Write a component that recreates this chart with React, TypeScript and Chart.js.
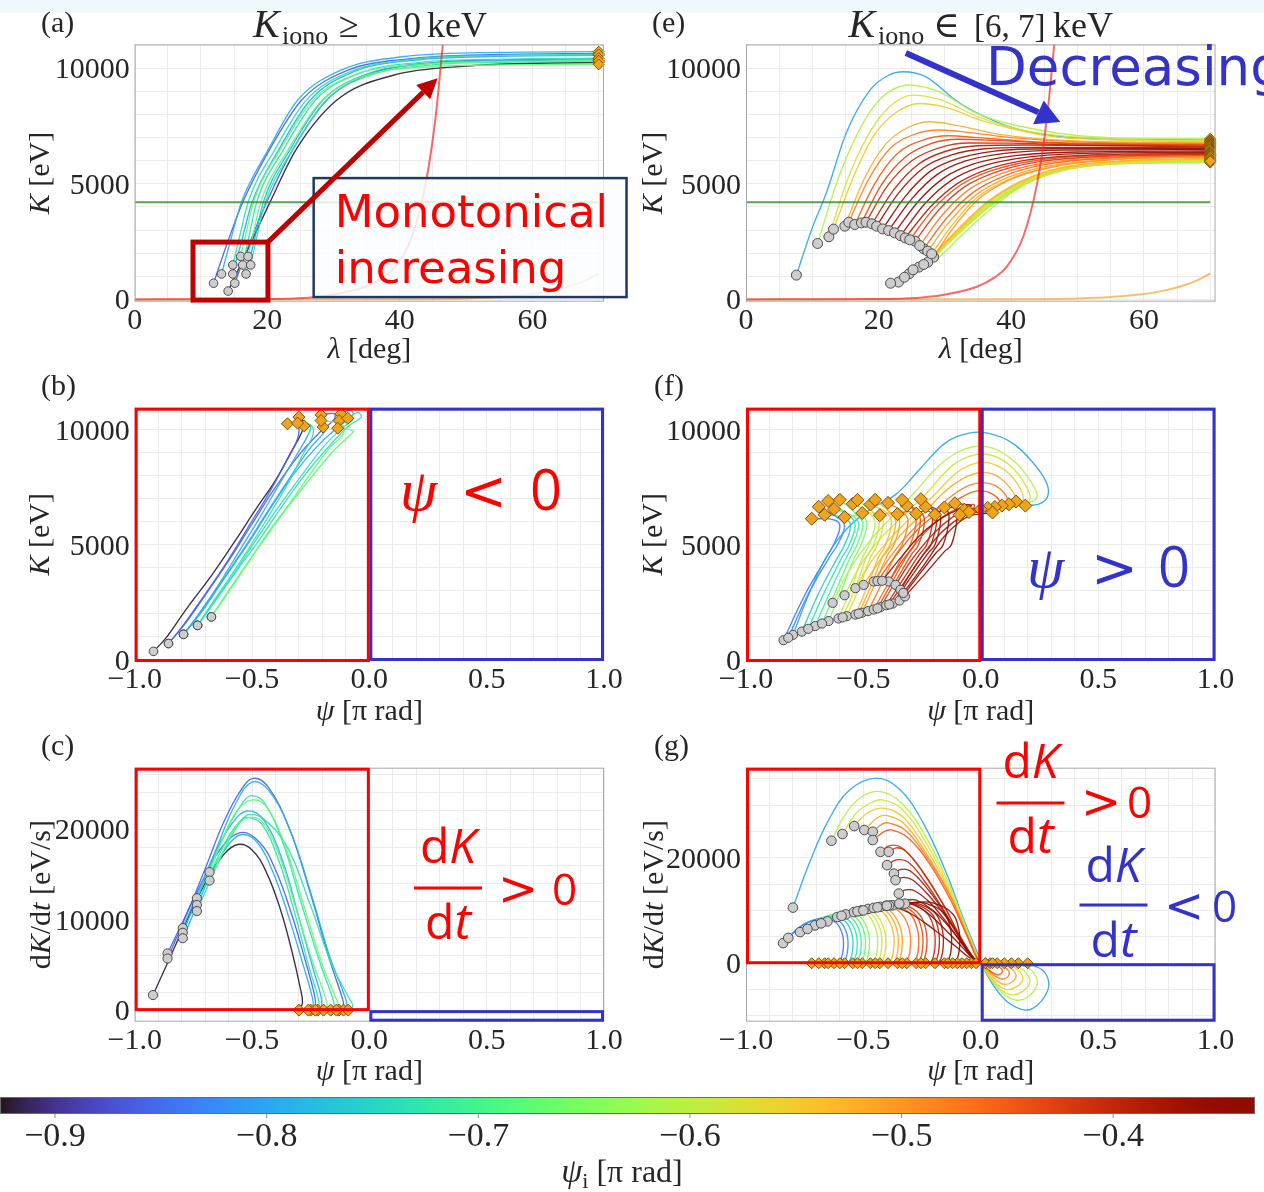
import React, { useEffect, useRef } from "react";
import { Chart, registerables } from "chart.js";

Chart.register(...registerables);

// ---------------- colour scale (psi_i) ----------------
const PSI_MIN = -0.926;
const PSI_MAX = -0.333;

// ---------------- tick labels ----------------
const LAM_MAJOR = [0, 20, 40, 60];
const K_MAJOR = [0, 5000, 10000];
const PSI_MAJOR = [-1, -0.5, 0, 0.5, 1];
const C_MAJOR = [0, 10000, 20000];
const G_MAJOR = [0, 20000];
const CB_MAJOR = [-0.9, -0.8, -0.7, -0.6, -0.5, -0.4];

// ---------------- reference lines in (a),(e): lambda, K ----------------
const redLine = [[0, 0], [10, 3], [20, 15], [24.7, 45], [29.7, 190], [34.8, 545], [37.5, 950], [39.3, 1410], [41.8, 2710], [43.9, 5020], [45.4, 7900], [46.4, 10790], [47, 12600]];
const greenLine = [[0, 4200], [70, 4200]];
const orangeLine = [[0, 0], [40, 8], [50, 40], [55, 100], [60, 230], [63, 380], [66, 600], [68, 820], [70, 1120]];

// ---------------- (a) lambda [deg], K [eV] ----------------
const aPsi = [-0.92, -0.856, -0.856, -0.792, -0.792, -0.792, -0.732, -0.732, -0.732, -0.673, -0.673];
const aTracks = [
  [[14.1, 360], [16.8, 2000], [20.4, 4200], [24.3, 6460], [30.5, 8630], [39, 9700], [50, 10100], [60, 10220], [70, 10250]],
  [[11.9, 700], [13.8, 2300], [16.3, 4200], [20.3, 6460], [25.2, 8630], [32, 9900], [41, 10400], [55, 10600], [70, 10650]],
  [[15.1, 700], [17.3, 2400], [19.9, 4200], [23.8, 6460], [29, 8630], [36, 9800], [45, 10250], [57, 10380], [70, 10420]],
  [[13.1, 1100], [14.5, 2600], [16.1, 4200], [20.1, 6460], [24.6, 8630], [31.2, 9930], [40.3, 10500], [52, 10680], [70, 10720]],
  [[14.8, 1100], [16.2, 2600], [17.7, 4200], [21.7, 6460], [26.5, 8630], [33, 9850], [42, 10350], [55, 10520], [70, 10560]],
  [[16.8, 1100], [18, 2500], [19.4, 4200], [23.4, 6460], [28.4, 8630], [35, 9750], [44, 10200], [56, 10330], [70, 10360]],
  [[14.8, 1490], [15.9, 2800], [17.1, 4200], [21.1, 6460], [25.9, 8630], [32.5, 9850], [41.5, 10380], [55, 10560], [70, 10600]],
  [[16.3, 1490], [17.3, 2800], [18.4, 4200], [22.4, 6460], [27.3, 8630], [34, 9800], [43, 10260], [56, 10400], [70, 10440]],
  [[17.5, 1490], [18.5, 2800], [19.7, 4200], [23.8, 6460], [28.9, 8630], [35.5, 9700], [45, 10150], [57, 10270], [70, 10300]],
  [[16.0, 1860], [16.9, 3000], [17.9, 4200], [21.9, 6460], [26.9, 8630], [33.5, 9750], [43, 10170], [56, 10300], [70, 10330]],
  [[17.1, 1860], [18, 3000], [19.0, 4200], [23.1, 6460], [28.3, 8630], [35, 9700], [45, 10070], [57, 10150], [70, 10170]],
];

// ---------------- (b) psi [pi rad], K [eV] ----------------
const bPsi = [-0.92, -0.856, -0.856, -0.792, -0.792, -0.792, -0.732, -0.732, -0.732, -0.673, -0.673];
const bTracks = [
  [[-0.92, 360], [-0.87, 900], [-0.78, 2200], [-0.67, 3700], [-0.57, 5200], [-0.48, 6600], [-0.40, 7800], [-0.33, 9100], [-0.29, 9850], [-0.28, 10300], [-0.30, 10550]],
  [[-0.856, 700], [-0.80, 1400], [-0.71, 2700], [-0.61, 4200], [-0.52, 5700], [-0.43, 7200], [-0.36, 8500], [-0.31, 9500], [-0.30, 10050], [-0.32, 10300], [-0.349, 10260]],
  [[-0.856, 700], [-0.79, 1500], [-0.70, 2800], [-0.60, 4300], [-0.50, 5900], [-0.40, 7500], [-0.30, 8900], [-0.21, 9900], [-0.15, 10450], [-0.15, 10700], [-0.206, 10650]],
  [[-0.792, 1100], [-0.73, 1900], [-0.64, 3300], [-0.55, 4800], [-0.46, 6300], [-0.38, 7700], [-0.31, 8900], [-0.26, 9800], [-0.25, 10150], [-0.278, 10170]],
  [[-0.792, 1100], [-0.72, 2000], [-0.62, 3500], [-0.52, 5000], [-0.42, 6600], [-0.32, 8100], [-0.22, 9300], [-0.13, 10150], [-0.07, 10650], [-0.08, 10850], [-0.121, 10690]],
  [[-0.792, 1100], [-0.73, 1950], [-0.63, 3400], [-0.53, 4900], [-0.43, 6500], [-0.34, 7900], [-0.26, 9100], [-0.2, 9800], [-0.18, 10100], [-0.197, 10120]],
  [[-0.732, 1490], [-0.67, 2400], [-0.58, 3700], [-0.49, 5100], [-0.39, 6600], [-0.29, 8000], [-0.2, 9200], [-0.12, 10050], [-0.07, 10450], [-0.09, 10550], [-0.129, 10400]],
  [[-0.732, 1490], [-0.68, 2300], [-0.6, 3500], [-0.51, 4900], [-0.42, 6400], [-0.34, 7800], [-0.28, 9000], [-0.24, 9800], [-0.25, 10200], [-0.306, 10290]],
  [[-0.732, 1490], [-0.66, 2500], [-0.57, 3800], [-0.47, 5200], [-0.37, 6700], [-0.27, 8100], [-0.17, 9300], [-0.09, 10150], [-0.035, 10550], [-0.05, 10750], [-0.092, 10500]],
  [[-0.673, 1860], [-0.62, 2700], [-0.54, 3900], [-0.45, 5200], [-0.35, 6600], [-0.25, 7900], [-0.16, 9000], [-0.09, 9700], [-0.07, 9950], [-0.135, 10070]],
  [[-0.673, 1860], [-0.61, 2800], [-0.53, 4000], [-0.44, 5400], [-0.34, 6800], [-0.25, 8100], [-0.17, 9200], [-0.11, 9850], [-0.12, 10250], [-0.206, 10400]],
];

// ---------------- (c) psi [pi rad], dK/dt [eV/s] ----------------
const cPsi = [-0.92, -0.856, -0.856, -0.792, -0.792, -0.792, -0.732, -0.732, -0.732, -0.673, -0.673];
const cTracks = [
  [[-0.922, 1660], [-0.86, 5200], [-0.78, 9800], [-0.70, 14000], [-0.62, 17200], [-0.56, 18300], [-0.50, 17700], [-0.44, 15300], [-0.38, 11200], [-0.33, 6500], [-0.295, 2500], [-0.285, 800], [-0.30, 0]],
  [[-0.86, 6260], [-0.80, 9500], [-0.72, 13800], [-0.64, 17600], [-0.55, 19600], [-0.47, 18600], [-0.40, 15500], [-0.33, 10500], [-0.27, 5200], [-0.235, 1800], [-0.23, 500], [-0.25, 0]],
  [[-0.86, 5700], [-0.78, 10500], [-0.70, 15600], [-0.62, 20800], [-0.55, 24200], [-0.495, 25600], [-0.43, 24600], [-0.34, 20000], [-0.25, 12800], [-0.17, 5600], [-0.12, 1700], [-0.11, 450], [-0.13, 0]],
  [[-0.795, 9060], [-0.73, 13000], [-0.65, 17800], [-0.58, 20800], [-0.52, 22000], [-0.45, 21000], [-0.37, 16500], [-0.30, 10200], [-0.24, 4600], [-0.205, 1400], [-0.205, 400], [-0.22, 0]],
  [[-0.795, 8540], [-0.72, 13200], [-0.64, 18600], [-0.57, 22800], [-0.50, 25200], [-0.43, 24300], [-0.34, 20000], [-0.25, 13000], [-0.17, 6000], [-0.11, 1900], [-0.095, 500], [-0.11, 0]],
  [[-0.795, 7940], [-0.73, 11800], [-0.66, 15800], [-0.59, 18600], [-0.54, 19400], [-0.48, 18600], [-0.41, 15200], [-0.34, 10000], [-0.28, 4800], [-0.245, 1600], [-0.24, 400], [-0.26, 0]],
  [[-0.735, 12360], [-0.67, 16300], [-0.60, 20300], [-0.54, 22900], [-0.505, 23700], [-0.45, 23000], [-0.37, 18600], [-0.29, 11800], [-0.21, 5200], [-0.16, 1600], [-0.15, 400], [-0.165, 0]],
  [[-0.735, 11610], [-0.67, 15500], [-0.60, 19200], [-0.55, 20900], [-0.52, 21300], [-0.46, 20600], [-0.39, 16800], [-0.32, 10900], [-0.26, 5000], [-0.22, 1500], [-0.215, 400], [-0.23, 0]],
  [[-0.735, 10940], [-0.67, 14800], [-0.60, 18700], [-0.55, 20800], [-0.515, 21600], [-0.45, 21100], [-0.35, 18000], [-0.25, 11500], [-0.16, 5000], [-0.09, 1500], [-0.07, 400], [-0.09, 0]],
  [[-0.681, 15240], [-0.63, 18600], [-0.57, 21800], [-0.505, 23200], [-0.44, 22500], [-0.36, 18200], [-0.28, 11600], [-0.20, 5000], [-0.145, 1500], [-0.13, 400], [-0.14, 0]],
  [[-0.681, 14310], [-0.63, 17200], [-0.57, 20200], [-0.51, 21300], [-0.45, 20600], [-0.38, 16800], [-0.31, 11000], [-0.24, 5200], [-0.19, 1600], [-0.18, 400], [-0.195, 0]],
];

// ---------------- (e) lambda [deg], K [eV] ----------------
const ePsi = [-0.80, -0.61, -0.585, -0.55, -0.52, -0.48, -0.45, -0.43, -0.41, -0.39, -0.37, -0.355, -0.34, -0.34, -0.36, -0.39, -0.42, -0.46, -0.50, -0.52, -0.55, -0.58, -0.60, -0.62, -0.44, -0.48, -0.51, -0.53, -0.57, -0.61, -0.64];
const eTracks = [
  [[7.6, 1050], [10, 3100], [12.1, 4590], [15.1, 7190], [18.7, 9060], [21.5, 9700], [23.7, 9850], [27, 9650], [32.3, 8480], [39.8, 7470], [47.4, 7040], [55, 6950], [70, 6900]],
  [[10.8, 2420], [13.5, 4900], [16.5, 7000], [20, 8600], [24.7, 9280], [29, 9000], [34.8, 8050], [44.8, 7300], [55, 7000], [70, 6950]],
  [[12.5, 2710], [15.2, 5100], [18.2, 7000], [21.5, 8300], [25.2, 8840], [29.5, 8620], [35, 7900], [43, 7250], [55, 6950], [70, 6880]],
  [[13.2, 3040], [16.2, 5300], [19.3, 7100], [22.7, 8100], [26.2, 8480], [30, 8320], [36, 7700], [45, 7100], [57, 6880], [70, 6830]],
  [[14.9, 3170], [17.8, 5200], [21, 6700], [24.5, 7450], [27.7, 7690], [32, 7520], [38, 7150], [48, 6880], [70, 6780]],
  [[15.5, 3340], [18.5, 5200], [21.8, 6550], [25.5, 7150], [29.2, 7330], [33.5, 7230], [40, 7000], [50, 6820], [70, 6750]],
  [[16.4, 3240], [19.4, 5000], [22.8, 6300], [26.8, 6900], [30.5, 7080], [35, 7000], [43, 6830], [70, 6700]],
  [[17.4, 3310], [20.4, 4950], [24, 6150], [28, 6750], [32, 6930], [37.5, 6880], [46, 6760], [70, 6680]],
  [[18.1, 3340], [21.3, 4900], [25, 6000], [29, 6550], [33.5, 6770], [40, 6760], [50, 6680], [70, 6640]],
  [[19.0, 3270], [22.3, 4750], [26, 5850], [30, 6400], [35, 6650], [42, 6680], [70, 6600]],
  [[19.7, 3170], [23, 4600], [26.8, 5700], [31, 6250], [36, 6520], [44, 6580], [70, 6560]],
  [[20.6, 3050], [24, 4450], [27.8, 5550], [32, 6100], [37.5, 6420], [46, 6520], [70, 6520]],
  [[21.5, 2980], [25, 4350], [28.8, 5400], [33, 5980], [39, 6320], [48, 6460], [70, 6480]],
  [[22.4, 2880], [26, 4250], [29.8, 5250], [34.2, 5850], [40, 6200], [50, 6380], [70, 6420]],
  [[23.3, 2760], [27, 4150], [30.8, 5120], [35.2, 5720], [41, 6100], [51, 6320], [70, 6370]],
  [[24.0, 2660], [27.8, 4000], [31.8, 5000], [36.3, 5620], [42, 6020], [52, 6250], [70, 6320]],
  [[25.5, 2520], [29, 3850], [33, 4880], [37.6, 5500], [44, 5950], [55, 6200], [70, 6270]],
  [[26.8, 2190], [30.2, 3500], [34.2, 4620], [39, 5350], [45, 5830], [55, 6120], [70, 6220]],
  [[28.3, 1830], [31, 3000], [35, 4320], [40, 5200], [46, 5720], [56, 6060], [70, 6170]],
  [[27.4, 1610], [29.5, 2300], [32.5, 3200], [36.5, 4250], [41.5, 5120], [47.5, 5700], [57, 6000], [70, 6110]],
  [[26.1, 1400], [28.5, 2000], [31.8, 2900], [36.2, 4100], [41.5, 5050], [47.5, 5640], [57, 5960], [70, 6060]],
  [[24.6, 1110], [27.5, 1700], [31.6, 2780], [36.6, 4050], [42, 5030], [48, 5620], [58, 5930], [70, 6010]],
  [[23.0, 750], [26.5, 1300], [31, 2560], [36.6, 3980], [42.2, 5000], [48, 5590], [58, 5900], [70, 5960]],
  [[21.8, 700], [25, 1100], [29, 1800], [32.3, 2710], [37.3, 4010], [42.3, 5020], [47.4, 5600], [58, 5880], [70, 5920]],
  [[24.7, 2580], [28.3, 3930], [32.3, 4940], [36.9, 5560], [43, 5980], [53, 6220], [70, 6290]],
  [[26.2, 2330], [29.6, 3650], [33.6, 4750], [38.3, 5420], [44.5, 5880], [55, 6150], [70, 6240]],
  [[27.4, 2090], [30.5, 3300], [34.5, 4480], [39.5, 5280], [45.5, 5770], [56, 6080], [70, 6190]],
  [[28.0, 1970], [30.9, 3150], [34.8, 4400], [39.8, 5220], [46, 5730], [56, 6070], [70, 6160]],
  [[26.8, 1510], [29, 2150], [32.2, 3050], [36.4, 4180], [41.5, 5080], [47.5, 5670], [57, 5980], [70, 6080]],
  [[25.2, 1280], [28, 1850], [31.7, 2840], [36.4, 4070], [41.8, 5040], [47.7, 5630], [57.5, 5950], [70, 6030]],
  [[23.9, 960], [27, 1500], [31.3, 2650], [36.6, 4010], [42.1, 5010], [48, 5600], [58, 5910], [70, 5980]],
];

// ---------------- (f) psi [pi rad], K [eV] ----------------
const fLoopPsi = [-0.80, -0.61, -0.585, -0.55, -0.52, -0.48, -0.45];
const fLoopTracks = [
  [[-0.80, 1075], [-0.73, 2900], [-0.65, 4600], [-0.56, 5800], [-0.46, 6600], [-0.36, 7200], [-0.26, 8280], [-0.15, 9430], [-0.05, 9850], [0.03, 9850], [0.13, 9450], [0.22, 8600], [0.28, 7700], [0.285, 7100], [0.25, 6780], [0.19, 6700]],
  [[-0.631, 2470], [-0.56, 3900], [-0.47, 5200], [-0.38, 6200], [-0.28, 7300], [-0.16, 8600], [-0.04, 9250], [0.05, 9200], [0.14, 8650], [0.21, 7800], [0.24, 7100], [0.2, 6820], [0.15, 6880]],
  [[-0.58, 2800], [-0.51, 4150], [-0.42, 5350], [-0.33, 6250], [-0.23, 7250], [-0.12, 8450], [-0.03, 8900], [0.05, 8880], [0.13, 8400], [0.19, 7600], [0.21, 7000], [0.17, 6700], [0.12, 6760]],
  [[-0.534, 3110], [-0.46, 4350], [-0.37, 5450], [-0.28, 6350], [-0.19, 7250], [-0.1, 8150], [-0.02, 8550], [0.05, 8520], [0.12, 8100], [0.17, 7400], [0.18, 6900], [0.14, 6640], [0.09, 6700]],
  [[-0.499, 3250], [-0.42, 4450], [-0.33, 5550], [-0.24, 6400], [-0.16, 7250], [-0.08, 7850], [-0.01, 8130], [0.05, 8080], [0.1, 7750], [0.14, 7250], [0.15, 6800], [0.11, 6580], [0.06, 6640]],
  [[-0.456, 3400], [-0.38, 4550], [-0.29, 5650], [-0.2, 6450], [-0.12, 7150], [-0.05, 7580], [0.01, 7700], [0.06, 7580], [0.1, 7250], [0.115, 6850], [0.08, 6560], [0.03, 6600]],
  [[-0.44, 3420], [-0.36, 4550], [-0.27, 5650], [-0.18, 6400], [-0.1, 6950], [-0.04, 7280], [0.01, 7340], [0.05, 7200], [0.08, 6900], [0.075, 6600], [0.04, 6480], [0.0, 6540]],
];
const fHookPsi = [-0.84, -0.762, -0.705, -0.648, -0.606, -0.57, -0.534, -0.506, -0.48, -0.456, -0.427, -0.403, -0.375, -0.346, -0.333, -0.82, -0.73, -0.675, -0.59, -0.52, -0.44, -0.39];
const fHookTracks = [
  [[-0.84, 845], [-0.75, 2800], [-0.66, 4400], [-0.627, 5000], [-0.60, 5800], [-0.625, 6080], [-0.72, 6130]],
  [[-0.762, 1220], [-0.69, 2900], [-0.615, 4350], [-0.58, 5000], [-0.555, 5850], [-0.585, 6180], [-0.665, 6300]],
  [[-0.705, 1460], [-0.64, 3000], [-0.575, 4400], [-0.545, 5000], [-0.52, 5900], [-0.55, 6280], [-0.625, 6550]],
  [[-0.648, 1680], [-0.59, 3100], [-0.54, 4400], [-0.51, 5000], [-0.485, 5900], [-0.51, 6250], [-0.58, 6200]],
  [[-0.606, 1790], [-0.55, 3150], [-0.505, 4420], [-0.475, 5000], [-0.45, 5950], [-0.475, 6380], [-0.545, 6780]],
  [[-0.57, 1890], [-0.515, 3200], [-0.47, 4450], [-0.44, 5000], [-0.415, 5950], [-0.44, 6330], [-0.505, 6380]],
  [[-0.534, 1960], [-0.48, 3250], [-0.435, 4470], [-0.405, 5000], [-0.38, 6000], [-0.405, 6420], [-0.47, 6750]],
  [[-0.506, 2040], [-0.45, 3300], [-0.40, 4500], [-0.37, 5000], [-0.345, 6000], [-0.37, 6380], [-0.43, 6280]],
  [[-0.48, 2110], [-0.42, 3350], [-0.365, 4520], [-0.335, 5000], [-0.31, 6050], [-0.335, 6450], [-0.395, 6820]],
  [[-0.456, 2180], [-0.39, 3400], [-0.33, 4550], [-0.30, 5000], [-0.275, 6050], [-0.30, 6430], [-0.355, 6330]],
  [[-0.427, 2280], [-0.36, 3450], [-0.295, 4580], [-0.265, 5000], [-0.24, 6100], [-0.265, 6500], [-0.315, 6700]],
  [[-0.403, 2370], [-0.33, 3500], [-0.26, 4600], [-0.23, 5000], [-0.205, 6100], [-0.225, 6480], [-0.275, 6350]],
  [[-0.375, 2440], [-0.30, 3550], [-0.225, 4620], [-0.195, 5000], [-0.17, 6150], [-0.19, 6550], [-0.235, 6650]],
  [[-0.346, 2570], [-0.27, 3600], [-0.19, 4650], [-0.16, 5000], [-0.135, 6150], [-0.15, 6550], [-0.195, 6300]],
  [[-0.323, 2750], [-0.24, 3700], [-0.155, 4700], [-0.125, 5000], [-0.10, 6200], [-0.11, 6580], [-0.155, 6620]],
  [[-0.82, 950], [-0.735, 2850], [-0.645, 4450], [-0.61, 5000], [-0.58, 5820], [-0.605, 6150], [-0.69, 6650]],
  [[-0.735, 1340], [-0.665, 2950], [-0.595, 4380], [-0.56, 5000], [-0.535, 5880], [-0.565, 6300], [-0.65, 6900]],
  [[-0.676, 1570], [-0.615, 3050], [-0.558, 4400], [-0.527, 5000], [-0.502, 5900], [-0.53, 6330], [-0.60, 6950]],
  [[-0.588, 1840], [-0.532, 3170], [-0.488, 4430], [-0.457, 5000], [-0.432, 5950], [-0.458, 6400], [-0.525, 6950]],
  [[-0.52, 2000], [-0.465, 3270], [-0.418, 4480], [-0.387, 5000], [-0.362, 6000], [-0.388, 6420], [-0.45, 6950]],
  [[-0.44, 2230], [-0.375, 3420], [-0.312, 4560], [-0.282, 5000], [-0.257, 6080], [-0.282, 6480], [-0.335, 6950]],
  [[-0.39, 2400], [-0.315, 3520], [-0.242, 4610], [-0.212, 5000], [-0.187, 6120], [-0.207, 6520], [-0.255, 6980]],
];
const fMidPsi = [-0.43, -0.40, -0.38, -0.36, -0.35];
const fMidTracks = [
  [[-0.392, 3400], [-0.32, 4500], [-0.23, 5600], [-0.15, 6300], [-0.08, 6650], [-0.03, 6750], [-0.03, 6600], [-0.07, 6520]],
  [[-0.363, 3250], [-0.29, 4400], [-0.2, 5500], [-0.12, 6200], [-0.06, 6500], [-0.02, 6560], [-0.05, 6420]],
  [[-0.342, 3040], [-0.27, 4200], [-0.18, 5400], [-0.1, 6100], [-0.045, 6380], [-0.015, 6420], [-0.09, 6300]],
  [[-0.33, 2900], [-0.25, 4000], [-0.16, 5300], [-0.09, 6000], [-0.04, 6280], [0.0, 6330], [0.05, 6400]],
  [[-0.42, 3430], [-0.34, 4450], [-0.25, 5500], [-0.16, 6200], [-0.09, 6550], [-0.04, 6700], [-0.11, 6800]],
];

// ---------------- (g) psi [pi rad], dK/dt [eV/s] ----------------
const gLoopPsi = [-0.80, -0.61, -0.585, -0.55, -0.52, -0.48, -0.45];
const gLoopTracks = [
  [[-0.80, 10550], [-0.73, 19000], [-0.65, 27000], [-0.56, 32800], [-0.447, 35120], [-0.35, 33200], [-0.25, 27000], [-0.15, 17500], [-0.07, 8000], [-0.01, 1500], [0.03, -2500], [0.1, -6800], [0.17, -8700], [0.22, -8600], [0.27, -6500], [0.29, -3900], [0.265, -1400], [0.2, 0]],
  [[-0.636, 23240], [-0.58, 28000], [-0.51, 31500], [-0.427, 32570], [-0.34, 30500], [-0.24, 24500], [-0.14, 15500], [-0.06, 6500], [-0.01, 1000], [0.03, -2200], [0.09, -5600], [0.15, -7000], [0.2, -6400], [0.24, -4000], [0.22, -1500], [0.16, 0]],
  [[-0.589, 24510], [-0.53, 28500], [-0.47, 30400], [-0.42, 31000], [-0.34, 29400], [-0.24, 23400], [-0.14, 14800], [-0.06, 6200], [-0.01, 900], [0.03, -2000], [0.08, -4800], [0.13, -6000], [0.18, -5300], [0.21, -3400], [0.18, -1200], [0.13, 0]],
  [[-0.539, 26030], [-0.48, 28600], [-0.41, 29400], [-0.33, 27700], [-0.24, 22300], [-0.14, 14200], [-0.06, 6000], [-0.01, 800], [0.03, -1800], [0.07, -4000], [0.11, -5000], [0.155, -4400], [0.18, -2800], [0.15, -1000], [0.1, 0]],
  [[-0.496, 25280], [-0.44, 27600], [-0.40, 28000], [-0.33, 26600], [-0.24, 21400], [-0.14, 13600], [-0.06, 5700], [-0.01, 700], [0.03, -1500], [0.065, -3200], [0.1, -4000], [0.135, -3500], [0.15, -2200], [0.12, -700], [0.07, 0]],
  [[-0.46, 24950], [-0.42, 26400], [-0.39, 26600], [-0.32, 25200], [-0.23, 20200], [-0.13, 12800], [-0.06, 5500], [-0.01, 600], [0.03, -1200], [0.06, -2400], [0.09, -3000], [0.115, -2600], [0.12, -1600], [0.09, -500], [0.04, 0]],
  [[-0.46, 23370], [-0.41, 25000], [-0.38, 25300], [-0.31, 23800], [-0.22, 19000], [-0.13, 12100], [-0.06, 5300], [-0.01, 500], [0.025, -900], [0.05, -1800], [0.075, -2200], [0.09, -1800], [0.09, -1100], [0.06, -300], [0.02, 0]],
];
const gHookPsi = [-0.84, -0.762, -0.705, -0.648, -0.606, -0.57, -0.534, -0.506, -0.48, -0.456, -0.427, -0.403, -0.375, -0.346, -0.333, -0.82, -0.73, -0.675, -0.59, -0.52, -0.44, -0.39];
const gHookTracks = [
  [[-0.842, 3810], [-0.77, 6860], [-0.68, 8450], [-0.62, 7810], [-0.59, 5600], [-0.585, 3050], [-0.595, 840], [-0.61, 0], [-0.72, 0]],
  [[-0.77, 5900], [-0.70, 8200], [-0.63, 8900], [-0.575, 7800], [-0.548, 5400], [-0.545, 2800], [-0.555, 800], [-0.57, 0], [-0.665, 0]],
  [[-0.706, 7180], [-0.65, 9000], [-0.59, 9400], [-0.54, 8100], [-0.513, 5500], [-0.51, 2800], [-0.52, 800], [-0.535, 0], [-0.625, 0]],
  [[-0.653, 7940], [-0.60, 9500], [-0.55, 9800], [-0.505, 8400], [-0.478, 5700], [-0.475, 2900], [-0.485, 800], [-0.5, 0], [-0.58, 0]],
  [[-0.611, 8760], [-0.56, 10000], [-0.515, 10100], [-0.47, 8600], [-0.443, 5800], [-0.44, 2900], [-0.45, 800], [-0.465, 0], [-0.545, 0]],
  [[-0.575, 9270], [-0.525, 10300], [-0.48, 10300], [-0.435, 8700], [-0.408, 5900], [-0.405, 3000], [-0.415, 800], [-0.43, 0], [-0.505, 0]],
  [[-0.54, 9700], [-0.49, 10600], [-0.445, 10500], [-0.40, 8800], [-0.373, 6000], [-0.37, 3000], [-0.38, 800], [-0.395, 0], [-0.47, 0]],
  [[-0.51, 10000], [-0.46, 10800], [-0.41, 10700], [-0.365, 8900], [-0.338, 6000], [-0.335, 3000], [-0.345, 800], [-0.36, 0], [-0.43, 0]],
  [[-0.48, 10300], [-0.43, 11000], [-0.38, 10800], [-0.33, 9000], [-0.303, 6100], [-0.30, 3000], [-0.31, 800], [-0.325, 0], [-0.395, 0]],
  [[-0.456, 10500], [-0.405, 11100], [-0.35, 10900], [-0.295, 9100], [-0.268, 6100], [-0.265, 3000], [-0.275, 800], [-0.29, 0], [-0.355, 0]],
  [[-0.427, 10700], [-0.375, 11200], [-0.32, 11000], [-0.26, 9200], [-0.233, 6200], [-0.23, 3100], [-0.24, 800], [-0.255, 0], [-0.315, 0]],
  [[-0.403, 10900], [-0.35, 11300], [-0.29, 11100], [-0.225, 9300], [-0.198, 6200], [-0.195, 3100], [-0.205, 800], [-0.22, 0], [-0.275, 0]],
  [[-0.375, 11000], [-0.32, 11400], [-0.26, 11200], [-0.19, 9300], [-0.163, 6200], [-0.16, 3100], [-0.17, 800], [-0.185, 0], [-0.235, 0]],
  [[-0.346, 11200], [-0.29, 11500], [-0.23, 11300], [-0.155, 9400], [-0.128, 6300], [-0.125, 3100], [-0.135, 800], [-0.15, 0], [-0.195, 0]],
  [[-0.323, 11300], [-0.265, 11600], [-0.2, 11400], [-0.12, 9400], [-0.093, 6300], [-0.09, 3100], [-0.1, 800], [-0.115, 0], [-0.155, 0]],
  [[-0.82, 4800], [-0.75, 7500], [-0.66, 8700], [-0.60, 7900], [-0.57, 5500], [-0.566, 2900], [-0.575, 820], [-0.59, 0], [-0.69, 0]],
  [[-0.738, 6500], [-0.675, 8600], [-0.61, 9150], [-0.558, 7950], [-0.53, 5450], [-0.527, 2800], [-0.537, 800], [-0.552, 0], [-0.65, 0]],
  [[-0.68, 7560], [-0.625, 9250], [-0.57, 9600], [-0.522, 8250], [-0.495, 5600], [-0.492, 2850], [-0.502, 800], [-0.517, 0], [-0.60, 0]],
  [[-0.593, 9000], [-0.543, 10150], [-0.497, 10200], [-0.452, 8650], [-0.425, 5850], [-0.422, 2950], [-0.432, 800], [-0.447, 0], [-0.525, 0]],
  [[-0.525, 9850], [-0.475, 10700], [-0.427, 10600], [-0.382, 8850], [-0.355, 6000], [-0.352, 3000], [-0.362, 800], [-0.377, 0], [-0.45, 0]],
  [[-0.44, 10600], [-0.39, 11150], [-0.335, 10950], [-0.277, 9150], [-0.25, 6150], [-0.247, 3050], [-0.257, 800], [-0.272, 0], [-0.335, 0]],
  [[-0.39, 10950], [-0.335, 11350], [-0.275, 11150], [-0.207, 9300], [-0.18, 6200], [-0.177, 3100], [-0.187, 800], [-0.202, 0], [-0.255, 0]],
];
const gMidPsi = [-0.43, -0.41, -0.40, -0.38, -0.37, -0.36, -0.345, -0.35, -0.34];
const gMidTracks = [
  [[-0.427, 21140], [-0.39, 22300], [-0.34, 22000], [-0.26, 18200], [-0.17, 11900], [-0.09, 5300], [-0.03, 1000], [0.0, 0], [-0.04, 0]],
  [[-0.392, 21140], [-0.36, 21900], [-0.32, 21300], [-0.25, 17500], [-0.16, 11200], [-0.09, 5200], [-0.03, 1000], [0.0, 0], [-0.02, 0]],
  [[-0.399, 18610], [-0.36, 19600], [-0.31, 19200], [-0.24, 15600], [-0.16, 10200], [-0.09, 4900], [-0.03, 950], [0.0, 0], [0.02, 0]],
  [[-0.37, 17000], [-0.34, 17800], [-0.30, 17500], [-0.23, 14300], [-0.15, 9300], [-0.08, 4300], [-0.03, 900], [0.0, 0], [-0.06, 0]],
  [[-0.363, 15750], [-0.33, 16300], [-0.29, 15800], [-0.22, 12800], [-0.14, 8300], [-0.08, 4000], [-0.03, 850], [0.0, 0], [-0.08, 0]],
  [[-0.349, 13220], [-0.32, 13900], [-0.28, 13700], [-0.21, 11200], [-0.14, 7400], [-0.08, 3700], [-0.03, 800], [0.0, 0], [-0.1, 0]],
  [[-0.347, 11310], [-0.31, 12000], [-0.27, 11900], [-0.2, 9900], [-0.13, 6600], [-0.07, 3200], [-0.025, 700], [0.0, 0], [-0.12, 0]],
  [[-0.40, 10900], [-0.35, 11500], [-0.29, 11200], [-0.22, 9300], [-0.15, 6300], [-0.08, 3100], [-0.03, 700], [0.0, 0], [-0.14, 0]],
  [[-0.5, 10000], [-0.44, 10800], [-0.37, 10700], [-0.29, 9200], [-0.2, 6400], [-0.11, 3300], [-0.04, 800], [0.0, 0], [0.05, 0]],
];

// ---------------- styling helpers ----------------
const SERIF = '"Liberation Serif", "DejaVu Serif", serif';
const SANS = '"Open Sans", "Noto Sans", "DejaVu Sans", sans-serif';
const WIDE = '"DejaVu Sans", "Open Sans", sans-serif';
const SYM = '"DejaVu Sans", sans-serif';
const INK = "#262626";
const RED = "#ff0000";
const BLUE = "#3333cc";
const DARKRED = "#c00000";
const NAVY = "#1f3864";

function turboRGB(t: number) {
  t = Math.min(1, Math.max(0, t));
  const r = 0.13572138 + t * (4.6153926 + t * (-42.66032258 + t * (132.13108234 + t * (-152.94239396 + t * 59.28637943))));
  const g = 0.09140261 + t * (2.19418839 + t * (4.84296658 + t * (-14.18503333 + t * (4.27729857 + t * 2.82956604))));
  const b = 0.1066733 + t * (12.64194608 + t * (-60.58204836 + t * (110.36276771 + t * (-89.90310912 + t * 27.34824973))));
  return [r, g, b].map((c) => Math.round(255 * Math.min(1, Math.max(0, c))));
}
function turbo(v: number, a = 1) {
  const [r, g, b] = turboRGB((v - PSI_MIN) / (PSI_MAX - PSI_MIN));
  return `rgba(${r},${g},${b},${a})`;
}
function range(a: number, b: number, step: number) {
  const n = Math.round((b - a) / step);
  return Array.from({ length: n + 1 }, (_, i) => +(a + i * step).toFixed(6));
}
const fmtPsi = (v: number) => (v < 0 ? "\u2212" : "") + Math.abs(v).toFixed(1);
const fmtInt = (v: number) => String(v);

function lineDs(pts: number[][], color: string, width: number, monotone: boolean) {
  return {
    showLine: true,
    data: pts.map((p) => ({ x: p[0], y: p[1] })),
    borderColor: color,
    backgroundColor: color,
    borderWidth: width,
    pointRadius: 0,
    pointHoverRadius: 0,
    pointHitRadius: 0,
    tension: monotone ? 0 : 0.4,
    cubicInterpolationMode: monotone ? "monotone" : "default",
    clip: 0,
    fill: false,
  };
}
function curveSets(groups: any[], monotone: boolean) {
  const all: any[] = [];
  groups.forEach((g) => g.tracks.forEach((t: number[][], i: number) => all.push({ psi: g.psi[i], t })));
  all.sort((a, b) => b.psi - a.psi);
  return all.map((c) => lineDs(c.t, turbo(c.psi, 0.92), 1.35, monotone));
}
function markerSets(groups: any[], circleR = 4.6, diamondR = 6) {
  const tracks: number[][][] = groups.flatMap((g) => g.tracks);
  return [
    {
      showLine: false,
      data: tracks.map((t) => ({ x: t[t.length - 1][0], y: t[t.length - 1][1] })),
      pointStyle: "rectRot",
      pointRadius: diamondR,
      pointHoverRadius: diamondR,
      backgroundColor: "#f2a31c",
      borderColor: "#7a5200",
      borderWidth: 1,
      clip: false,
    },
    {
      showLine: false,
      data: tracks.map((t) => ({ x: t[0][0], y: t[0][1] })),
      pointStyle: "circle",
      pointRadius: circleR,
      pointHoverRadius: circleR,
      backgroundColor: "#cdcdcd",
      borderColor: "#4a4a4a",
      borderWidth: 1,
      clip: false,
    },
  ];
}
function refLineSets() {
  return [
    lineDs(redLine, "rgba(250,40,40,0.7)", 2, true),
    lineDs(greenLine, "rgba(40,140,40,0.8)", 2, true),
    lineDs(orangeLine, "rgba(245,170,60,0.75)", 2, true),
  ];
}

// ---------------- drawing helpers ----------------
type Run = { t: string; f: string; dy?: number };
function runsWidth(ctx: CanvasRenderingContext2D, runs: Run[]) {
  let w = 0;
  for (const r of runs) {
    ctx.font = r.f;
    w += ctx.measureText(r.t).width;
  }
  return w;
}
function drawRuns(ctx: CanvasRenderingContext2D, runs: Run[], x: number, y: number, align: string, color: string) {
  ctx.save();
  ctx.fillStyle = color;
  ctx.textAlign = "left";
  ctx.textBaseline = "alphabetic";
  let cx = align === "center" ? x - runsWidth(ctx, runs) / 2 : x;
  for (const r of runs) {
    ctx.font = r.f;
    ctx.fillText(r.t, cx, y + (r.dy || 0));
    cx += ctx.measureText(r.t).width;
  }
  ctx.restore();
}
function drawRotated(ctx: CanvasRenderingContext2D, runs: Run[], x: number, y: number) {
  ctx.save();
  ctx.translate(x, y);
  ctx.rotate(-Math.PI / 2);
  drawRuns(ctx, runs, 0, 0, "center", INK);
  ctx.restore();
}
function text(ctx: CanvasRenderingContext2D, s: string, x: number, y: number, font: string, color = INK) {
  ctx.save();
  ctx.font = font;
  ctx.fillStyle = color;
  ctx.textAlign = "left";
  ctx.textBaseline = "alphabetic";
  ctx.fillText(s, x, y);
  ctx.restore();
}
function frame(chart: any) {
  const { ctx, chartArea: a } = chart;
  ctx.save();
  ctx.strokeStyle = "#a8a8a8";
  ctx.lineWidth = 1;
  ctx.strokeRect(a.left + 0.5, a.top + 0.5, a.right - a.left - 1, a.bottom - a.top - 1);
  ctx.restore();
}
function tickLabels(chart: any, xs: number[], ys: number[], fx: (v: number) => string, fy: (v: number) => string) {
  const { ctx, chartArea: a, scales } = chart;
  ctx.save();
  ctx.font = `30px ${SERIF}`;
  ctx.fillStyle = INK;
  ctx.textBaseline = "alphabetic";
  ctx.textAlign = "center";
  xs.forEach((v) => ctx.fillText(fx(v), scales.x.getPixelForValue(v), a.bottom + 27));
  ctx.textAlign = "right";
  ys.forEach((v) => ctx.fillText(fy(v), a.left - 5, scales.y.getPixelForValue(v) + 10));
  ctx.restore();
}
function arrow(ctx: CanvasRenderingContext2D, x1: number, y1: number, x2: number, y2: number, color: string, w: number, hl: number, hw: number) {
  const ang = Math.atan2(y2 - y1, x2 - x1);
  const bx = x2 - hl * Math.cos(ang);
  const by = y2 - hl * Math.sin(ang);
  ctx.save();
  ctx.strokeStyle = color;
  ctx.fillStyle = color;
  ctx.lineWidth = w;
  ctx.beginPath();
  ctx.moveTo(x1, y1);
  ctx.lineTo(bx, by);
  ctx.stroke();
  ctx.beginPath();
  ctx.moveTo(x2, y2);
  ctx.lineTo(bx + (hw / 2) * Math.sin(ang), by - (hw / 2) * Math.cos(ang));
  ctx.lineTo(bx - (hw / 2) * Math.sin(ang), by + (hw / 2) * Math.cos(ang));
  ctx.closePath();
  ctx.fill();
  ctx.restore();
}
function quadBoxes(chart: any, redRange: number[], blueRange: number[]) {
  const { ctx, scales } = chart;
  const px = (v: number) => scales.x.getPixelForValue(v);
  const py = (v: number) => scales.y.getPixelForValue(v);
  const x0 = px(-1), xm = px(0), x1 = px(1);
  ctx.save();
  ctx.lineWidth = 3;
  ctx.strokeStyle = RED;
  const rt = py(redRange[1]) + 1.5, rb = py(redRange[0]) - 0.5;
  ctx.strokeRect(x0 + 1.5, rt, xm - x0 - 2.5, rb - rt);
  ctx.strokeStyle = BLUE;
  const bt = py(blueRange[1]) + 1.5, bb = py(blueRange[0]) - 1.5;
  ctx.strokeRect(xm + 1.5, bt, x1 - xm - 3, bb - bt);
  ctx.restore();
}
function fraction(ctx: CanvasRenderingContext2D, cx: number, numBase: number, lineY: number, denBase: number, color: string) {
  drawRuns(ctx, [{ t: "d", f: `48px ${SANS}` }, { t: "K", f: `italic 48px ${SANS}` }], cx, numBase, "center", color);
  ctx.save();
  ctx.fillStyle = color;
  ctx.fillRect(cx - 34, lineY - 1.5, 68, 3);
  ctx.restore();
  drawRuns(ctx, [{ t: "d", f: `48px ${SANS}` }, { t: "t", f: `italic 50px ${SANS}` }], cx, denBase, "center", color);
}

const K_LABEL: Run[] = [{ t: "K", f: `italic 30px ${SERIF}` }, { t: " [eV]", f: `30px ${SERIF}` }];
const DK_LABEL: Run[] = [
  { t: "d", f: `30px ${SERIF}` },
  { t: "K", f: `italic 30px ${SERIF}` },
  { t: "/d", f: `30px ${SERIF}` },
  { t: "t", f: `italic 30px ${SERIF}` },
  { t: " [eV/s]", f: `30px ${SERIF}` },
];
const PSI_LABEL: Run[] = [{ t: "\u03c8", f: `italic 30px ${SERIF}` }, { t: " [\u03c0 rad]", f: `30px ${SERIF}` }];
const LAM_LABEL: Run[] = [{ t: "\u03bb", f: `italic 30px ${SERIF}` }, { t: " [deg]", f: `30px ${SERIF}` }];

// ---------------- chart factory ----------------
function scaleOpts(min: number, max: number, ticks: number[], axis: string, showGrid = true) {
  return {
    type: "linear",
    min,
    max,
    ticks: { display: false, autoSkip: false },
    grid: { display: showGrid, color: "#ebebeb", lineWidth: 1, drawTicks: false },
    border: { display: false },
    title: { display: false },
    afterBuildTicks: (s: any) => {
      s.ticks = ticks.map((v) => ({ value: v }));
    },
    afterFit: (s: any) => {
      if (axis === "x") s.height = 0;
      else s.width = 0;
    },
  };
}
function makeChart(canvas: HTMLCanvasElement, spec: any) {
  return new Chart(canvas, {
    type: "scatter",
    data: { datasets: spec.datasets },
    options: {
      responsive: false,
      animation: false,
      devicePixelRatio: 1,
      events: [],
      layout: { padding: spec.pad },
      plugins: { legend: { display: false }, tooltip: { enabled: false }, title: { display: false } },
      scales: {
        x: scaleOpts(spec.x[0], spec.x[1], spec.xTicks, "x", spec.grid !== false),
        y: scaleOpts(spec.y[0], spec.y[1], spec.yTicks, "y", spec.grid !== false),
      },
    } as any,
    plugins: [
      {
        id: "decor",
        beforeDatasetsDraw(chart: any) {
          if (spec.under) spec.under(chart);
        },
        afterDraw(chart: any) {
          spec.draw(chart);
        },
      },
    ],
  } as any);
}

// layout (px)
const CANVAS_W = 632;
const ROW_H = 372;
const ROWS = [
  { top: 0, pt: 44.3, pb: ROW_H - 301.7 },
  { top: 365, pt: 42.7, pb: ROW_H - 296 },
  { top: 725, pt: 42.7, pb: ROW_H - 296.7 },
];
const LPAD = { left: 134.7, right: 28 };
const RPAD = { left: 114, right: 48.5 };
const pad = (row: number, side: any) => ({ left: side.left, right: side.right, top: ROWS[row].pt, bottom: ROWS[row].pb });

const K_RANGE_TOP = [-100, 11040];
const K_RANGE_MID = [-60, 10960];
const LAM_RANGE = [0, 70.8];
const PSI_RANGE = [-1, 1];
const C_RANGE = [-1280, 26780];
const G_RANGE = [-11100, 37100];

function specA() {
  const groups = [{ tracks: aTracks, psi: aPsi }];
  return {
    pad: pad(0, LPAD),
    x: LAM_RANGE,
    y: K_RANGE_TOP,
    xTicks: range(0, 70, 5),
    yTicks: range(0, 11000, 1000),
    datasets: [...markerSets(groups, 4.3, 5.5), ...refLineSets(), ...curveSets(groups, true)],
    draw(chart: any) {
      const { ctx, chartArea: ca, scales } = chart;
      const px = (v: number) => scales.x.getPixelForValue(v);
      const py = (v: number) => scales.y.getPixelForValue(v);
      frame(chart);
      tickLabels(chart, LAM_MAJOR, K_MAJOR, fmtInt, fmtInt);
      const bx0 = px(27.0), bx1 = px(74.2), by0 = py(5250), by1 = py(100);
      ctx.save();
      ctx.fillStyle = "rgba(250,253,255,0.85)";
      ctx.fillRect(bx0, by0, bx1 - bx0, by1 - by0);
      ctx.strokeStyle = NAVY;
      ctx.lineWidth = 2.5;
      ctx.strokeRect(bx0, by0, bx1 - bx0, by1 - by0);
      ctx.restore();
      text(ctx, "Monotonical", bx0 + 21, by0 + 49, `45px ${WIDE}`, RED);
      text(ctx, "increasing", bx0 + 21, by0 + 105, `45px ${WIDE}`, RED);
      ctx.save();
      ctx.strokeStyle = DARKRED;
      ctx.lineWidth = 5;
      ctx.strokeRect(px(8.8), py(2480), px(20.1) - px(8.8), py(-30) - py(2480));
      ctx.restore();
      arrow(ctx, px(20.1), py(2480), px(45.7), py(9570), DARKRED, 5, 20, 20);
      text(ctx, "(a)", 41, 32, `30px ${SERIF}`);
      text(ctx, "K", 253, 37, `italic 40px ${SERIF}`);
      text(ctx, "iono", 282, 44, `26px ${SERIF}`);
      text(ctx, "\u2265", 339, 37, `36px ${SERIF}`);
      text(ctx, "10", 386, 37, `35px ${SERIF}`);
      text(ctx, "keV", 427, 37, `36px ${SERIF}`);
      drawRuns(ctx, LAM_LABEL, (ca.left + ca.right) / 2, 358, "center", INK);
      drawRotated(ctx, K_LABEL, 49, (ca.top + ca.bottom) / 2);
    },
  };
}

function specE() {
  const groups = [{ tracks: eTracks, psi: ePsi }];
  return {
    pad: pad(0, RPAD),
    x: LAM_RANGE,
    y: K_RANGE_TOP,
    xTicks: range(0, 70, 5),
    yTicks: range(0, 11000, 1000),
    datasets: [...markerSets(groups, 5, 5.5), ...refLineSets(), ...curveSets(groups, true)],
    draw(chart: any) {
      const { ctx, chartArea: ca, scales } = chart;
      const px = (v: number) => scales.x.getPixelForValue(v);
      const py = (v: number) => scales.y.getPixelForValue(v);
      frame(chart);
      tickLabels(chart, LAM_MAJOR, K_MAJOR, fmtInt, fmtInt);
      arrow(ctx, px(24.1), py(10660), px(47.4), py(7675), BLUE, 6, 24, 26);
      text(ctx, "Decreasing", 354, 85, `53px ${WIDE}`, BLUE);
      text(ctx, "(e)", 20, 32, `30px ${SERIF}`);
      text(ctx, "K", 216.6, 37, `italic 40px ${SERIF}`);
      text(ctx, "iono", 246, 44, `26px ${SERIF}`);
      text(ctx, "\u2208", 301, 37, `36px ${SERIF}`);
      text(ctx, "[6, 7]", 342, 37, `33px ${SERIF}`);
      text(ctx, "keV", 421, 37, `36px ${SERIF}`);
      drawRuns(ctx, LAM_LABEL, (ca.left + ca.right) / 2, 358, "center", INK);
      drawRotated(ctx, K_LABEL, 30, (ca.top + ca.bottom) / 2);
    },
  };
}

function specB() {
  const groups = [{ tracks: bTracks, psi: bPsi }];
  return {
    pad: pad(1, LPAD),
    x: PSI_RANGE,
    y: K_RANGE_MID,
    xTicks: range(-1, 1, 0.1),
    yTicks: range(0, 10000, 1000),
    datasets: [...markerSets(groups, 4.3, 6), ...curveSets(groups, false)],
    draw(chart: any) {
      const { ctx, chartArea: ca } = chart;
      frame(chart);
      quadBoxes(chart, [K_RANGE_MID[0], K_RANGE_MID[1]], [K_RANGE_MID[0], K_RANGE_MID[1]]);
      tickLabels(chart, PSI_MAJOR, K_MAJOR, fmtPsi, fmtInt);
      text(ctx, "(b)", 41, 30, `30px ${SERIF}`);
      text(ctx, "\u03c8", 400, 145, `italic 60px ${SERIF}`, RED);
      text(ctx, "<", 460, 145, `56px ${SYM}`, RED);
      text(ctx, "0", 530, 145, `56px ${SANS}`, RED);
      drawRuns(ctx, PSI_LABEL, (ca.left + ca.right) / 2, 355, "center", INK);
      drawRotated(ctx, K_LABEL, 49, (ca.top + ca.bottom) / 2);
    },
  };
}

function specF() {
  const groups = [
    { tracks: fLoopTracks, psi: fLoopPsi },
    { tracks: fHookTracks, psi: fHookPsi },
    { tracks: fMidTracks, psi: fMidPsi },
  ];
  return {
    pad: pad(1, RPAD),
    x: PSI_RANGE,
    y: K_RANGE_MID,
    xTicks: range(-1, 1, 0.1),
    yTicks: range(0, 10000, 1000),
    datasets: [...markerSets(groups, 4.6, 6.5), ...curveSets(groups, false)],
    draw(chart: any) {
      const { ctx, chartArea: ca } = chart;
      frame(chart);
      quadBoxes(chart, [K_RANGE_MID[0], K_RANGE_MID[1]], [K_RANGE_MID[0], K_RANGE_MID[1]]);
      tickLabels(chart, PSI_MAJOR, K_MAJOR, fmtPsi, fmtInt);
      text(ctx, "(f)", 22, 30, `30px ${SERIF}`);
      text(ctx, "\u03c8", 395, 222, `italic 60px ${SERIF}`, BLUE);
      text(ctx, ">", 459, 222, `56px ${SYM}`, BLUE);
      text(ctx, "0", 526, 222, `56px ${SANS}`, BLUE);
      drawRuns(ctx, PSI_LABEL, (ca.left + ca.right) / 2, 355, "center", INK);
      drawRotated(ctx, K_LABEL, 30, (ca.top + ca.bottom) / 2);
    },
  };
}

function specC() {
  const groups = [{ tracks: cTracks, psi: cPsi }];
  return {
    pad: pad(2, LPAD),
    x: PSI_RANGE,
    y: C_RANGE,
    xTicks: range(-1, 1, 0.1),
    yTicks: range(0, 26000, 2000),
    datasets: [...markerSets(groups, 4.6, 6), ...curveSets(groups, false)],
    draw(chart: any) {
      const { ctx, chartArea: ca } = chart;
      frame(chart);
      quadBoxes(chart, [0, C_RANGE[1]], [C_RANGE[0], 0]);
      tickLabels(chart, PSI_MAJOR, C_MAJOR, fmtPsi, fmtInt);
      text(ctx, "(c)", 41, 30, `30px ${SERIF}`);
      fraction(ctx, 448, 138, 163, 214, RED);
      text(ctx, ">", 498, 180, `48px ${SYM}`, RED);
      text(ctx, "0", 552, 180, `44px ${SANS}`, RED);
      drawRuns(ctx, PSI_LABEL, (ca.left + ca.right) / 2, 355, "center", INK);
      drawRotated(ctx, DK_LABEL, 50, (ca.top + ca.bottom) / 2);
    },
  };
}

function specG() {
  const groups = [
    { tracks: gLoopTracks, psi: gLoopPsi },
    { tracks: gHookTracks, psi: gHookPsi },
    { tracks: gMidTracks, psi: gMidPsi },
  ];
  return {
    pad: pad(2, RPAD),
    x: PSI_RANGE,
    y: G_RANGE,
    xTicks: range(-1, 1, 0.1),
    yTicks: range(-10000, 35000, 5000),
    datasets: [...markerSets(groups, 4.8, 5.5), ...curveSets(groups, false)],
    draw(chart: any) {
      const { ctx, chartArea: ca } = chart;
      frame(chart);
      quadBoxes(chart, [0, G_RANGE[1]], [G_RANGE[0], 0]);
      tickLabels(chart, PSI_MAJOR, G_MAJOR, fmtPsi, fmtInt);
      text(ctx, "(g)", 22, 30, `30px ${SERIF}`);
      fraction(ctx, 398.5, 53, 78, 128, RED);
      text(ctx, ">", 449, 93, `48px ${SYM}`, RED);
      text(ctx, "0", 495, 93, `44px ${SANS}`, RED);
      fraction(ctx, 481.5, 157, 180, 232, BLUE);
      text(ctx, "<", 532, 197, `48px ${SYM}`, BLUE);
      text(ctx, "0", 580, 197, `44px ${SANS}`, BLUE);
      drawRuns(ctx, PSI_LABEL, (ca.left + ca.right) / 2, 355, "center", INK);
      drawRotated(ctx, DK_LABEL, 31, (ca.top + ca.bottom) / 2);
    },
  };
}

function specColorbar() {
  return {
    pad: { left: 0, right: 9, top: 12, bottom: 78 },
    x: [PSI_MIN, PSI_MAX],
    y: [0, 1],
    xTicks: CB_MAJOR,
    yTicks: [0, 1],
    grid: false,
    datasets: [],
    under(chart: any) {
      const { ctx, chartArea: a, scales } = chart;
      const grad = ctx.createLinearGradient(a.left, 0, a.right, 0);
      const n = 48;
      for (let i = 0; i <= n; i++) {
        const v = PSI_MIN + ((PSI_MAX - PSI_MIN) * i) / n;
        const t = (scales.x.getPixelForValue(v) - a.left) / (a.right - a.left);
        grad.addColorStop(Math.min(1, Math.max(0, t)), turbo(v));
      }
      ctx.save();
      ctx.fillStyle = grad;
      ctx.fillRect(a.left, a.top, a.right - a.left, a.bottom - a.top);
      ctx.restore();
    },
    draw(chart: any) {
      const { ctx, chartArea: a, scales } = chart;
      ctx.save();
      ctx.strokeStyle = "#6a6a6a";
      ctx.lineWidth = 1;
      ctx.strokeRect(a.left + 0.5, a.top + 0.5, a.right - a.left - 1, a.bottom - a.top - 1);
      ctx.strokeStyle = "#8a8a8a";
      ctx.font = `34px ${SERIF}`;
      ctx.fillStyle = INK;
      ctx.textAlign = "center";
      ctx.textBaseline = "alphabetic";
      CB_MAJOR.forEach((v) => {
        const x = scales.x.getPixelForValue(v);
        ctx.beginPath();
        ctx.moveTo(x, a.bottom);
        ctx.lineTo(x, a.bottom + 4);
        ctx.stroke();
        ctx.fillText(fmtPsi(v), x, 61);
      });
      ctx.restore();
      drawRuns(
        ctx,
        [
          { t: "\u03c8", f: `italic 34px ${SERIF}` },
          { t: "i", f: `22px ${SERIF}`, dy: 6 },
          { t: " [\u03c0 rad]", f: `32px ${SERIF}` },
        ],
        622,
        97,
        "center",
        INK
      );
    },
  };
}

export default function App() {
  const refs = [useRef<HTMLCanvasElement>(null), useRef<HTMLCanvasElement>(null), useRef<HTMLCanvasElement>(null), useRef<HTMLCanvasElement>(null), useRef<HTMLCanvasElement>(null), useRef<HTMLCanvasElement>(null), useRef<HTMLCanvasElement>(null)];
  useEffect(() => {
    const specs = [specA(), specE(), specB(), specF(), specC(), specG(), specColorbar()];
    const charts = specs.map((s, i) => makeChart(refs[i].current as HTMLCanvasElement, s));
    return () => charts.forEach((c) => c.destroy());
  }, []);

  const place = [
    { left: 0, top: ROWS[0].top, w: CANVAS_W, h: ROW_H },
    { left: 632, top: ROWS[0].top, w: CANVAS_W, h: ROW_H },
    { left: 0, top: ROWS[1].top, w: CANVAS_W, h: ROW_H },
    { left: 632, top: ROWS[1].top, w: CANVAS_W, h: ROW_H },
    { left: 0, top: ROWS[2].top, w: CANVAS_W, h: ROW_H },
    { left: 632, top: ROWS[2].top, w: CANVAS_W, h: ROW_H },
    { left: 0, top: 1085, w: 1264, h: 107 },
  ];

  return (
    <div style={{ position: "absolute", left: 0, top: 0, width: 1264, height: 1192, background: "#ffffff", overflow: "hidden" }}>
      <div style={{ position: "absolute", left: 0, top: 0, width: 1264, height: 13, background: "#eff8fa" }} />
      {place.map((p, i) => (
        <canvas
          key={i}
          ref={refs[i]}
          width={p.w}
          height={p.h}
          style={{ position: "absolute", left: p.left, top: p.top, width: p.w, height: p.h }}
        />
      ))}
    </div>
  );
}
